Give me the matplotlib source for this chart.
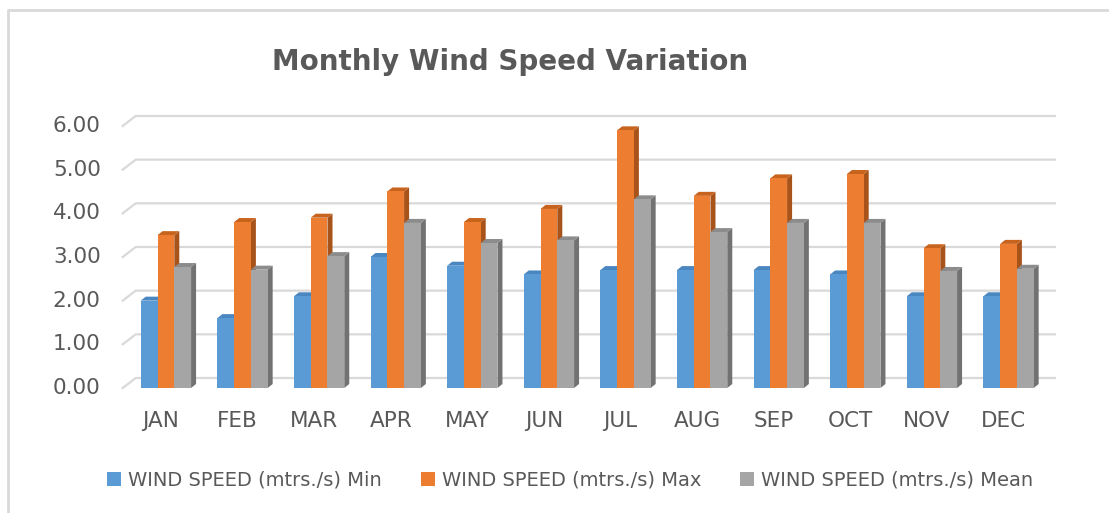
"""
plot.py

Monthly wind speed (min / max / mean) as an Excel-style 3D column chart.
"""

import matplotlib
matplotlib.use("Agg")

import matplotlib.pyplot as plt
from matplotlib.lines import Line2D
from matplotlib.patches import Patch, Polygon
import numpy as np


MONTHS = ["JAN", "FEB", "MAR", "APR", "MAY", "JUN",
          "JUL", "AUG", "SEP", "OCT", "NOV", "DEC"]
WIND_MIN = [2.0, 1.6, 2.1, 3.0, 2.8, 2.6, 2.7, 2.7, 2.7, 2.6, 2.1, 2.1]
WIND_MAX = [3.5, 3.8, 3.9, 4.5, 3.8, 4.1, 5.9, 4.4, 4.8, 4.9, 3.2, 3.3]
WIND_MEAN = [2.77, 2.71, 3.02, 3.78, 3.32, 3.38, 4.32, 3.57, 3.78, 3.78, 2.68, 2.73]
SERIES_LABELS = ["WIND SPEED (mtrs./s) Min",
                 "WIND SPEED (mtrs./s) Max",
                 "WIND SPEED (mtrs./s) Mean"]
Y_TICKS = [0, 1, 2, 3, 4, 5, 6]

FRONT = ["#5B9BD5", "#ED7D31", "#A5A5A5"]
TOP = ["#4A86C0", "#C8631E", "#8C8C8C"]
SIDE = ["#3F73A4", "#A8531A", "#727272"]
TEXT = "#595959"
GRID = "#D9D9D9"

W, H, DPI = 1109, 513, 100
X_PX = 76.6      # pixels per category
Y_PX = 43.67     # pixels per unit value


def main() -> None:
    fig = plt.figure(figsize=(W / DPI, H / DPI), dpi=DPI)
    left_px = 161 - 0.5 * X_PX
    right_px = 161 + 11.5 * X_PX
    base_px = 388
    ytop = 6.6
    top_px = base_px - ytop * Y_PX
    ax = fig.add_axes([left_px / W, 1 - base_px / H,
                       (right_px - left_px) / W, (base_px - top_px) / H])
    ax.set_xlim(-0.5, 11.5)
    ax.set_ylim(0, ytop)
    ax.axis("off")

    # depth offsets in data units
    gdx, gdy = 13 / X_PX, 10 / Y_PX     # back wall
    bdx, bdy = 5 / X_PX, 4 / Y_PX       # bar depth

    # back wall gridlines with the slanted left edge
    for v in Y_TICKS:
        ax.plot([-0.5, -0.5 + gdx, 11.5 + gdx], [v, v + gdy, v + gdy],
                color=GRID, lw=1.6, zorder=1, clip_on=False)
        ax.text(-0.5 - 22 / X_PX, v, f"{v:.2f}", ha="right", va="center",
                fontsize=15.5, color=TEXT)

    x = np.arange(len(MONTHS))
    width = 0.219
    offsets = [-0.155, 0.064, 0.283]
    for i, vals in enumerate([WIND_MIN, WIND_MAX, WIND_MEAN]):
        xs = x + offsets[i]
        z = 2 + i
        for xc, v in zip(xs, vals):
            l, r = xc - width / 2, xc + width / 2
            ax.add_patch(Polygon([(r, 0), (r + bdx, bdy), (r + bdx, v + bdy), (r, v)],
                                 closed=True, fc=SIDE[i], ec="none", zorder=z))
            ax.add_patch(Polygon([(l, v), (r, v), (r + bdx, v + bdy), (l + bdx, v + bdy)],
                                 closed=True, fc=TOP[i], ec="none", zorder=z))
        ax.bar(xs, vals, width=width, color=FRONT[i], zorder=z + 0.5)

    for xi, m in zip(x, MONTHS):
        ax.text(xi, -33 / Y_PX, m, ha="center", va="center",
                fontsize=15.5, color=TEXT)

    fig.text(510 / W, 1 - 62 / H, "Monthly Wind Speed Variation",
             ha="center", va="center", fontsize=20, fontweight="bold", color=TEXT)

    handles = [Patch(facecolor=c, edgecolor="none") for c in FRONT]
    fig.legend(handles, SERIES_LABELS, loc="center", ncol=3,
               bbox_to_anchor=(570 / W, 1 - 480 / H), frameon=False,
               fontsize=14, labelcolor=TEXT, handlelength=0.72, handleheight=0.72,
               handletextpad=0.36, columnspacing=2.0)

    # chart area border (top and left edges visible)
    fig.add_artist(Line2D([8 / W, 8 / W, 1.0], [0.0, 1 - 10 / H, 1 - 10 / H],
                          transform=fig.transFigure, color=GRID, lw=2))

    fig.savefig("out.png", dpi=DPI)
    plt.close(fig)


if __name__ == "__main__":
    main()
